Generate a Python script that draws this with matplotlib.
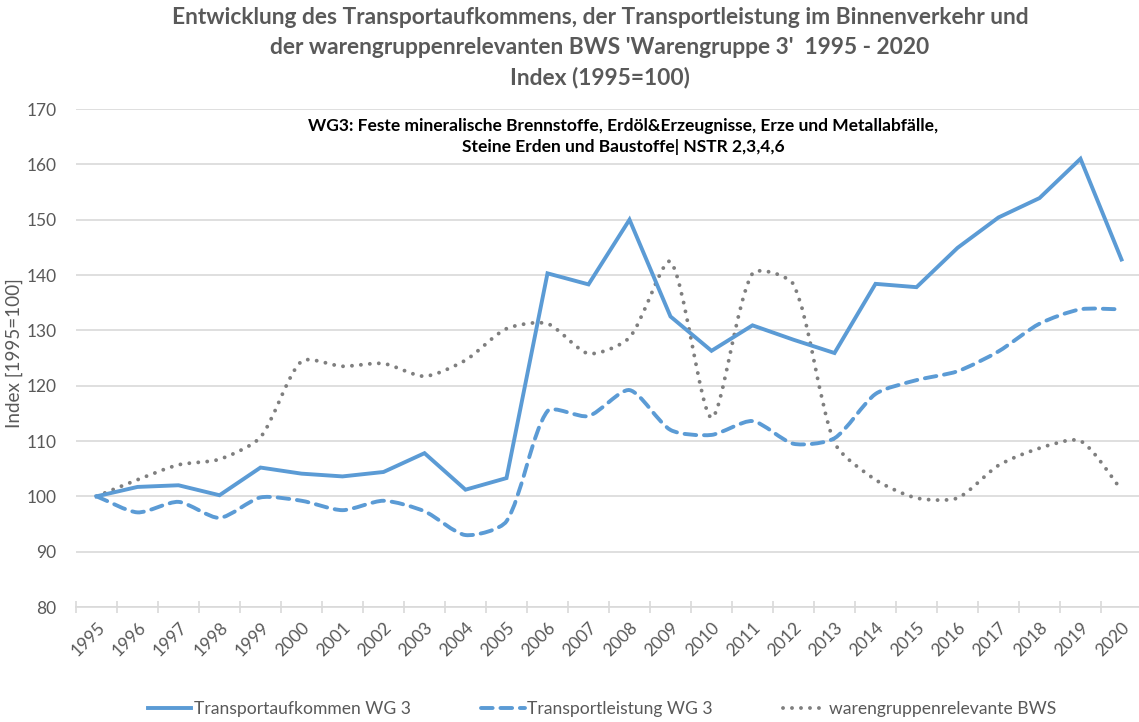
import matplotlib
matplotlib.use("Agg")
import matplotlib.pyplot as plt
import numpy as np
from matplotlib.path import Path
from matplotlib.patches import PathPatch
from matplotlib.lines import Line2D

plt.rcParams['font.family'] = ['Lato', 'DejaVu Sans']

years = [str(y) for y in range(1995, 2021)]

transportaufkommen = [100, 101.7, 102.0, 100.2, 105.2, 104.1, 103.6, 104.4, 107.8, 101.2,
                      103.3, 140.3, 138.3, 150.0, 132.5, 126.3, 130.9, 128.3, 125.9, 138.4,
                      137.8, 144.9, 150.4, 153.9, 161.0, 142.8]
transportleistung = [100, 97.1, 99.0, 96.1, 99.8, 99.2, 97.5, 99.2, 97.3, 93.0,
                     95.5, 115.4, 114.5, 119.2, 112.0, 111.1, 113.6, 109.5, 110.5, 118.5,
                     121.0, 122.6, 126.2, 131.2, 133.8, 133.8]
bws = [100, 103.0, 105.7, 106.7, 110.7, 124.4, 123.5, 124.0, 121.7, 124.6,
       130.3, 131.2, 125.8, 128.7, 142.4, 114.2, 140.3, 138.3, 109.7, 103.0,
       99.7, 99.7, 105.6, 108.7, 110.0, 101.2]

labels = ["Transportaufkommen WG 3", "Transportleistung WG 3", "warengruppenrelevante BWS"]
title = ("Entwicklung des Transportaufkommens, der Transportleistung im Binnenverkehr und\n"
         "der warengruppenrelevanten BWS 'Warengruppe 3'  1995 - 2020\n"
         "Index (1995=100)")
subtitle = ("WG3: Feste mineralische Brennstoffe, Erdöl&Erzeugnisse, Erze und Metallabfälle,\n"
            "Steine Erden und Baustoffe| NSTR 2,3,4,6")

BLUE = "#5B9BD5"
GRAY = "#7F7F7F"
TXT = "#595959"

W, H = 1139, 722
fig = plt.figure(figsize=(W / 100, H / 100), dpi=100)
ax = fig.add_axes([76 / W, 1 - 607 / H, 1066 / W, 498 / H])

x = np.arange(len(years))
ax.set_xlim(-0.5, 25.5)
ax.set_ylim(80, 170)


def smooth_path(xs, ys, k=0.25):
    """Excel-like smoothed line: cubic Bezier with length-weighted Catmull-Rom tangents."""
    pts = np.column_stack([np.asarray(xs, float), np.asarray(ys, float)])
    disp = ax.transData.transform(pts)
    n = len(pts)
    verts = [tuple(pts[0])]
    codes = [Path.MOVETO]

    def ctrl(i, forward, seg_len):
        ia, ib = max(i - 1, 0), min(i + 1, n - 1)
        da = np.hypot(*(disp[i] - disp[ia]))
        db = np.hypot(*(disp[ib] - disp[i]))
        tot = da + db
        if tot == 0:
            return pts[i]
        f = seg_len / tot * k
        d = (pts[ib] - pts[ia]) * f
        return pts[i] + d if forward else pts[i] - d

    for i in range(n - 1):
        seg = np.hypot(*(disp[i + 1] - disp[i]))
        verts += [tuple(ctrl(i, True, seg)), tuple(ctrl(i + 1, False, seg)), tuple(pts[i + 1])]
        codes += [Path.CURVE4] * 3
    return Path(verts, codes)


ax.plot(x, transportaufkommen, color=BLUE, lw=2.8, solid_joinstyle='miter', zorder=4)
ax.add_patch(PathPatch(smooth_path(x, transportleistung), fill=False, edgecolor=BLUE,
                       lw=2.8, linestyle=(0, (3, 2)), capstyle='round', zorder=3))
ax.add_patch(PathPatch(smooth_path(x, bws), fill=False, edgecolor=GRAY,
                       lw=2.8, linestyle=(0, (0.01, 2.3)), capstyle='round', zorder=2))

ax.set_yticks(range(80, 171, 10))
ax.yaxis.grid(True, color="#D9D9D9", lw=1.2)
ax.set_axisbelow(True)
for s in ['left', 'right', 'top']:
    ax.spines[s].set_visible(False)
ax.spines['bottom'].set_color("#D9D9D9")
ax.spines['bottom'].set_linewidth(1.2)
ax.tick_params(axis='y', length=0, labelsize=12.5, labelcolor=TXT, pad=14)
ax.set_xticks(np.arange(-0.5, 25.6, 1), minor=False)
ax.set_xticklabels([])
ax.tick_params(axis='x', which='major', direction='inout', length=9, width=1.2, color="#D9D9D9")
ax.set_xticks(x, minor=True)
ax.set_xticklabels(years, minor=True, rotation=45, ha='right', va='top',
                   rotation_mode='anchor', fontsize=12.5, color=TXT)
ax.tick_params(axis='x', which='minor', length=0, pad=9)

ax.set_ylabel("Index [1995=100]", fontsize=13.6, color=TXT)
ax.yaxis.set_label_coords(-53 / 1066, 0.51)

fig.text(600 / W, 1 - 7 / H, title, ha='center', va='top', fontsize=16.4,
         fontweight='bold', color=TXT, linespacing=1.52)
fig.text(623 / W, 1 - 118 / H, subtitle, ha='center', va='top', fontsize=12.5,
         fontweight='bold', color='black', linespacing=1.38)

handles = [Line2D([], [], color=BLUE, lw=2.8),
           Line2D([], [], color=BLUE, lw=2.8, linestyle=(0, (3, 2)), dash_capstyle='round'),
           Line2D([], [], color=GRAY, lw=2.8, linestyle=(0, (0.01, 2.3)), dash_capstyle='round')]
fig.legend(handles, labels, loc='center', bbox_to_anchor=(602 / W, 1 - 709 / H), ncol=3,
           frameon=False, fontsize=12.6, labelcolor=TXT, handlelength=2.5, handletextpad=0.15,
           columnspacing=4.0)

fig.savefig("out.png", dpi=100)
